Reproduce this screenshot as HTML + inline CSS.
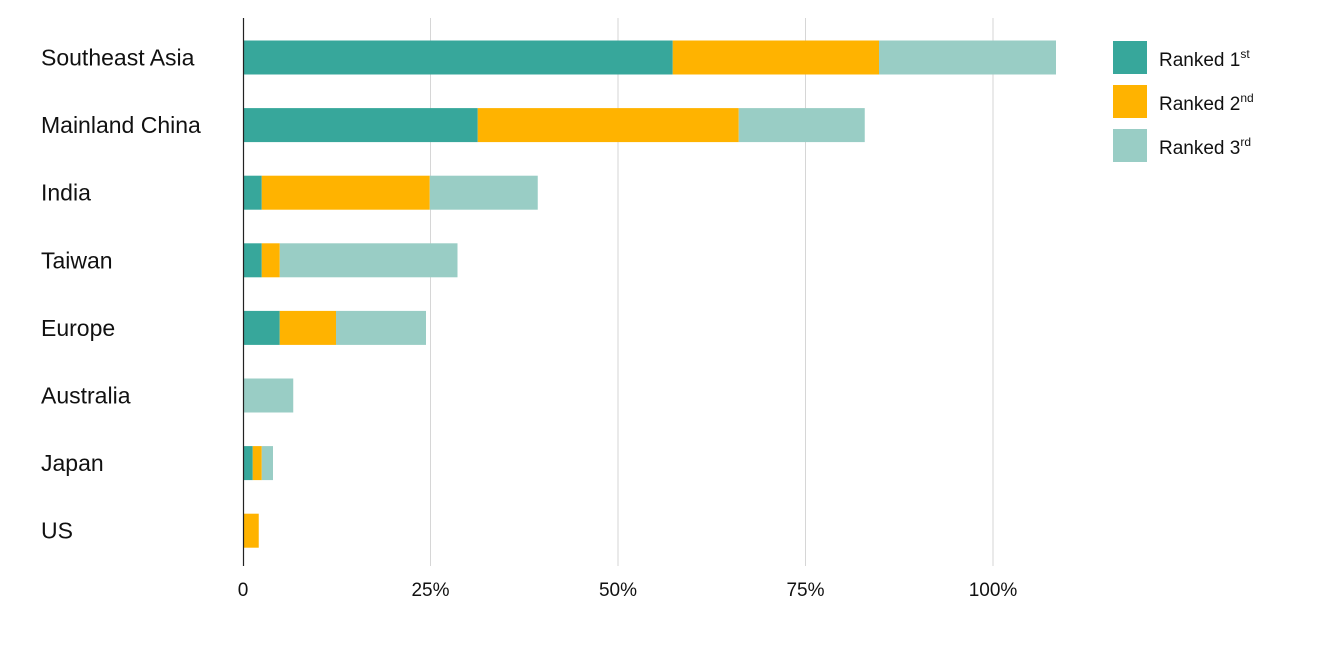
<!DOCTYPE html>
<html><head><meta charset="utf-8"><style>
body{margin:0;background:#fff;}
svg text{font-family:"Liberation Sans",sans-serif;fill:#111;}
</style></head><body>
<svg width="1318" height="658" viewBox="0 0 1318 658">
<g id="grid"></g><g id="bars"></g><g id="labels"></g>
<line x1="243.5" y1="18" x2="243.5" y2="566" stroke="#222" stroke-width="1.2"/>
<g>
<rect x="1113" y="41" width="34" height="33" fill="#37a79b"/>
<text x="1159" y="66" font-size="19">Ranked 1<tspan font-size="12" dy="-8">st</tspan></text>
<rect x="1113" y="85" width="34" height="33" fill="#ffb300"/>
<text x="1159" y="110" font-size="19">Ranked 2<tspan font-size="12" dy="-8">nd</tspan></text>
<rect x="1113" y="129" width="34" height="33" fill="#99cdc5"/>
<text x="1159" y="154" font-size="19">Ranked 3<tspan font-size="12" dy="-8">rd</tspan></text>
</g>
</svg>
<script>
const categories=["Southeast Asia","Mainland China","India","Taiwan","Europe","Australia","Japan","US"];
const ranked1=[57.3,31.3,2.5,2.5,4.9,0,1.3,0];
const ranked2=[27.5,34.8,22.4,2.4,7.5,0,1.2,2.1];
const ranked3=[23.6,16.8,14.4,23.7,12,6.7,1.5,0];
const ticks=[0,25,50,75,100];
const tickLabels=["0","25%","50%","75%","100%"];
const NS="http://www.w3.org/2000/svg";
const x=v=>243+v*7.5;
const yc=i=>57.5+i*67.6;
const bh=34;
function mk(t,a,p){const e=document.createElementNS(NS,t);for(const k in a)e.setAttribute(k,a[k]);document.getElementById(p).appendChild(e);return e;}
ticks.forEach((t,i)=>{
 if(t>0){const l=mk('line',{x1:x(t),x2:x(t),y1:18,y2:566,stroke:'#d6d6d6','stroke-width':1},'grid');
 
 }
 const tx=mk('text',{x:x(t),y:596,'font-size':19,'text-anchor':'middle'},'labels');
 tx.textContent=tickLabels[i];
 
 
});
const series=[[ranked1,'#37a79b','ranked-1st'],[ranked2,'#ffb300','ranked-2nd'],[ranked3,'#99cdc5','ranked-3rd']];
categories.forEach((c,i)=>{
 let acc=0;
 series.forEach(([arr,col,nm])=>{
  const v=arr[i];
  if(v>0){const r=mk('rect',{x:x(acc),y:yc(i)-bh/2,width:x(acc+v)-x(acc),height:bh,fill:col},'bars');
  
  }
  acc+=v;
 });
 const t=mk('text',{x:41,y:yc(i)+8,'font-size':23},'labels');
 t.textContent=c;
 
 
});
</script>
</body></html>
